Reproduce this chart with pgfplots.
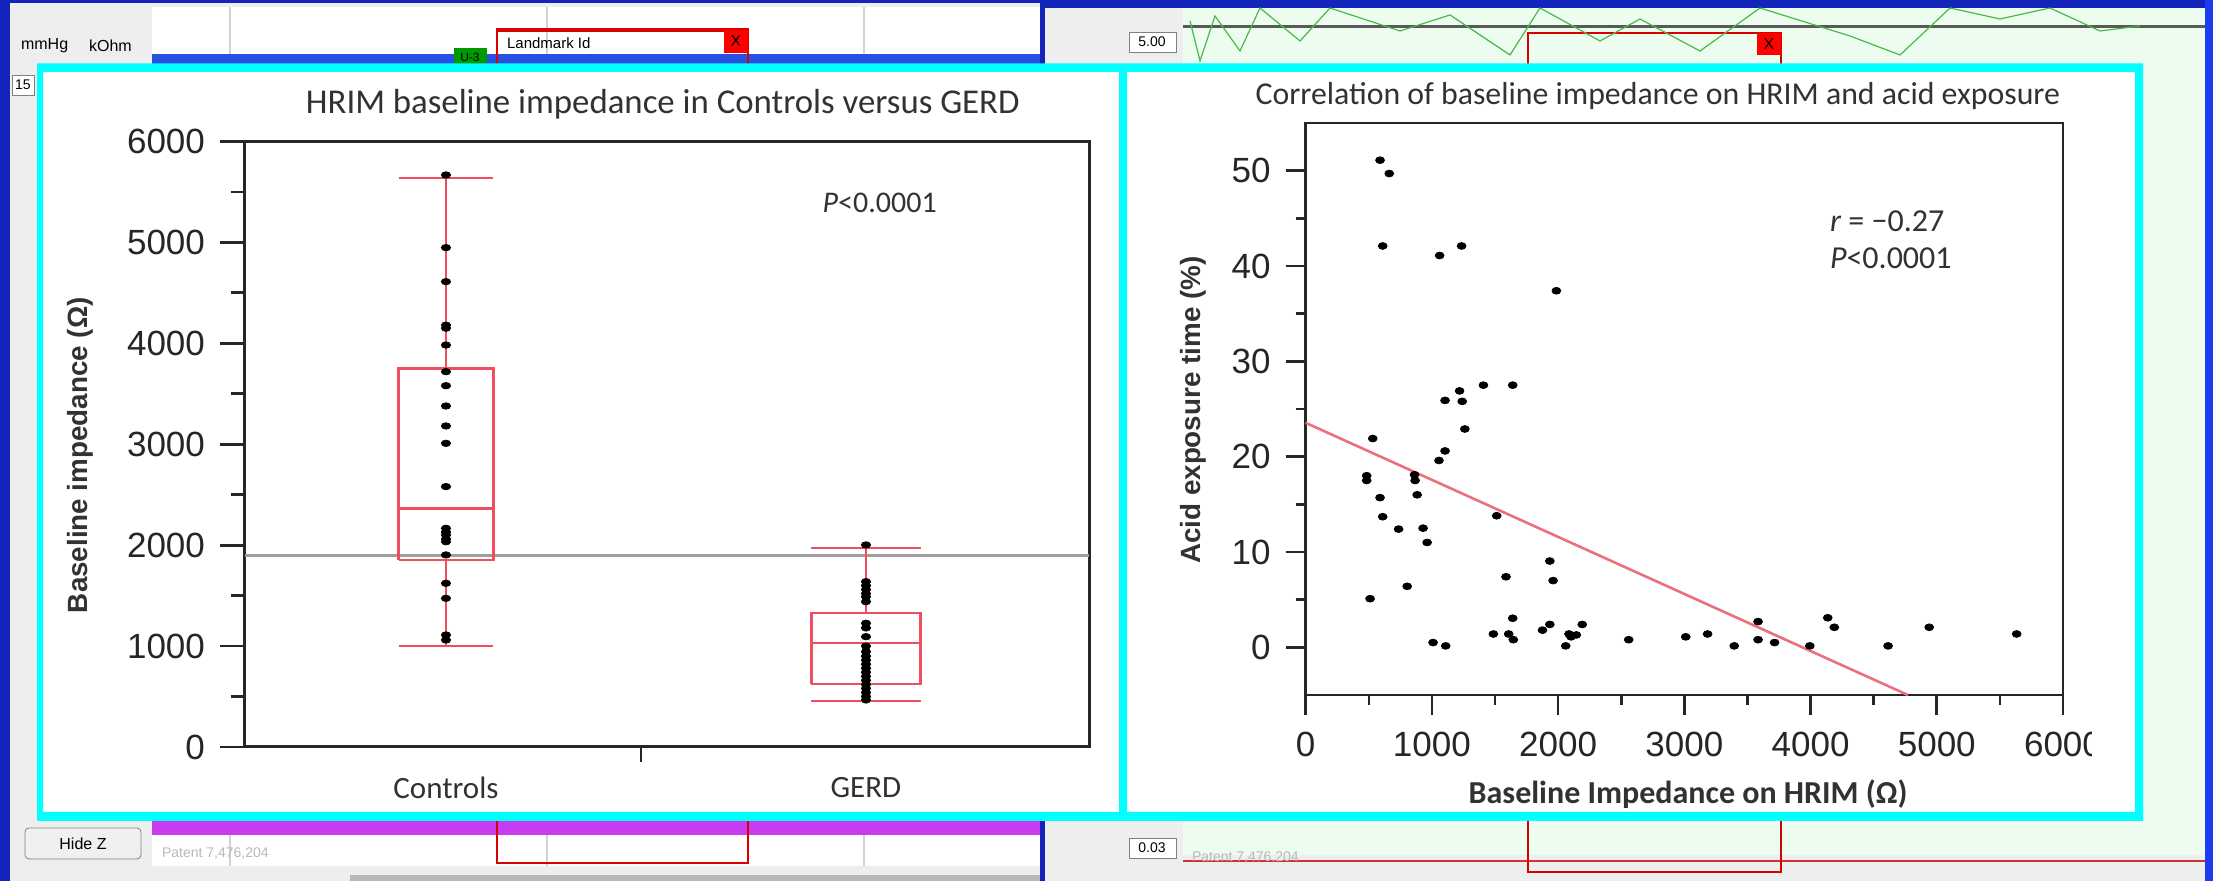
\documentclass[border=0pt]{standalone}
\usepackage{pgfplots}
\pgfplotsset{compat=1.18}
\usepackage{fontspec}
\setmainfont{Carlito}
\newfontfamily\arial{Liberation Sans}
\definecolor{bgblue}{RGB}{18,36,185}
\definecolor{bgblue2}{RGB}{30,60,240}
\definecolor{winGray}{RGB}{238,238,238}
\definecolor{mint}{RGB}{236,252,238}
\definecolor{boxred}{RGB}{240,78,94}
\definecolor{fitred}{RGB}{236,112,124}
\definecolor{purp}{RGB}{200,60,240}
\definecolor{heat}{RGB}{40,80,225}
\definecolor{cyanb}{RGB}{0,255,255}
\definecolor{txtgray}{RGB}{50,50,50}

\begin{document}
\begin{tikzpicture}
\begin{scope}[x=0.5pt,y=0.5pt]
\path[use as bounding box] (0,0) rectangle (2213,881);
% ---------- background screenshot decoration ----------
\fill[bgblue] (0,0) rectangle (2213,881);
\fill[bgblue2] (2205,0) rectangle (2213,881);
% left window
\fill[winGray] (10,0) rectangle (1040,878);
\fill[white] (152,15) rectangle (1040,874);
\foreach \gx in {230,547,864} \draw[gray!35, line width=0.8pt] (\gx,15) -- (\gx,874);
\fill[heat] (152,817) rectangle (1040,827);
\fill[purp] (152,46) rectangle (1040,60);
\draw[red!85!black, line width=1.2pt] (497,18) rectangle (748,852);
\fill[red!85!black] (497,849) rectangle (748,853);
\fill[red] (724,828) rectangle (748,851);
\node[font=\arial\fontsize{8}{8}\selectfont] at (736,840) {X};
\node[font=\arial\fontsize{7.5}{8}\selectfont, anchor=west] at (500,838) {Landmark Id};
\fill[green!60!black] (454,815) rectangle (487,833);
\node[font=\arial\fontsize{6}{6}\selectfont] at (470,824) {U-3};
\node[font=\arial\fontsize{8}{8}\selectfont, anchor=west] at (14,835) {mmHg};
\node[font=\arial\fontsize{8}{8}\selectfont, anchor=west] at (82,835) {kOhm};
\draw[gray, fill=white] (12,786) rectangle (34,806);
\node[font=\arial\fontsize{7}{7}\selectfont] at (23,796) {15};
\draw[gray, fill=gray!12, rounded corners=2pt] (25,22) rectangle (141,53);
\node[font=\arial\fontsize{8}{8}\selectfont] at (83,37) {Hide Z};
\node[font=\arial\fontsize{7}{7}\selectfont, text=gray!55, anchor=west] at (155,27) {Patent 7,476,204};
\fill[gray!55] (350,0) rectangle (1040,6);
% right window
\fill[winGray] (1045,0) rectangle (2205,873);
\fill[mint] (1183,26) rectangle (2205,873);
\draw[gray!70!black, line width=1.5pt] (1183,854) -- (2205,854);
\draw[red!60!gray, line width=1.2pt] (1183,20) -- (2205,20);
\draw[red!85!black, line width=1.2pt] (1528,9) rectangle (1781,848);
\fill[red] (1757,826) rectangle (1781,848);
\node[font=\arial\fontsize{8}{8}\selectfont] at (1769,837) {X};
\draw[gray, fill=white] (1129,829) rectangle (1176,849);
\node[font=\arial\fontsize{7}{7}\selectfont] at (1152,839) {5.00};
\draw[gray, fill=white] (1129,23) rectangle (1176,43);
\node[font=\arial\fontsize{7}{7}\selectfont] at (1152,33) {0.03};
\node[font=\arial\fontsize{7}{7}\selectfont, text=gray!55, anchor=west] at (1185,23) {Patent 7,476,204};
\draw[green!60!black!70, line width=0.6pt] (1190,860) -- (1200,820) -- (1215,865) -- (1240,830) -- (1260,873) -- (1300,840) -- (1330,873) -- (1400,850) -- (1450,866) -- (1510,826) -- (1540,873) -- (1600,840) -- (1640,862) -- (1700,830) -- (1760,873) -- (1850,845) -- (1900,826) -- (1950,873) -- (2000,862) -- (2050,873) -- (2100,850) -- (2140,855);
% ---------- white panels ----------
\fill[white] (43,69) rectangle (1119,809);
\fill[white] (1127,69) rectangle (2135,809);
\end{scope}

% ---------- LEFT: box plots ----------
\begin{axis}[
  at={(122.5pt,67pt)}, anchor=south west, scale only axis,
  width=422pt, height=302.75pt,
  clip=false,
  xmin=0.043, xmax=4.062, ymin=0, ymax=6000,
  axis line style={line width=1.5pt, black!85},
  ytick={0,1000,2000,3000,4000,5000,6000}, minor y tick num=1,
  ytick pos=left, xtick pos=bottom,
  tick align=outside,
  major tick length=12.5pt, minor tick length=7pt,
  tick style={black!85, line width=1.4pt},
  xtick={1,3}, xticklabels={Controls,GERD},
  major x tick style={draw=none},
  /pgf/number format/assume math mode=true,
  /pgf/number format/1000 sep={},
  yticklabel style={font=\arial\fontsize{17.5}{20}\selectfont, text=black!85, xshift=-4pt},
  xticklabel style={font=\fontsize{15.5}{18}\selectfont, text=txtgray, yshift=1pt},
  ylabel={Baseline impedance (Ω)},
  ylabel style={font=\arial\bfseries\fontsize{13.9}{16}\selectfont, text=txtgray, at={(axis description cs:-0.1947,0.482)}, anchor=center},
]
\addplot[gray!75, line width=1.4pt] coordinates {(0.043,1901) (4.062,1901)};
% Controls box
\addplot[boxred, line width=1.2pt] coordinates {(0.774,1853) (1.226,1853) (1.226,3752) (0.774,3752) (0.774,1853)};
\addplot[boxred, line width=1.2pt] coordinates {(0.774,2365) (1.226,2365)};
\addplot[boxred, line width=1.2pt] coordinates {(1,3752) (1,5640)};
\addplot[boxred, line width=1.2pt] coordinates {(1,1853) (1,998)};
\addplot[boxred, line width=1.2pt] coordinates {(0.774,5640) (1.226,5640)};
\addplot[boxred, line width=1.2pt] coordinates {(0.774,998) (1.226,998)};
% GERD box
\addplot[boxred, line width=1.2pt] coordinates {(2.74,627) (3.26,627) (3.26,1330) (2.74,1330) (2.74,627)};
\addplot[boxred, line width=1.2pt] coordinates {(2.74,1030) (3.26,1030)};
\addplot[boxred, line width=1.2pt] coordinates {(3,1330) (3,1970)};
\addplot[boxred, line width=1.2pt] coordinates {(3,627) (3,455)};
\addplot[boxred, line width=1.2pt] coordinates {(2.74,1970) (3.26,1970)};
\addplot[boxred, line width=1.2pt] coordinates {(2.74,455) (3.26,455)};
\addplot[only marks, mark=*, mark size=1.6pt, mark options={xscale=1.45, fill=black, draw=none}] coordinates {
(1,5668) (1,4948) (1,4611) (1,4180) (1,4150) (1,3983) (1,3719) (1,3580) (1,3379) (1,3181) (1,3009) (1,2580) (1,2167) (1,2130) (1,2101) (1,2060) (1,2034) (1,1903) (1,1622) (1,1473) (1,1110) (1,1060)
};
\addplot[only marks, mark=*, mark size=1.6pt, mark options={xscale=1.45, fill=black, draw=none}] coordinates {
(3,2002) (3,1638) (3,1600) (3,1560) (3,1520) (3,1489) (3,1440) (3,1226) (3,1180) (3,1093) (3,1000) (3,944) (3,900) (3,860) (3,820) (3,780) (3,740) (3,700) (3,660) (3,620) (3,580) (3,540) (3,500) (3,466)
};
\addplot[black!85, line width=1.4pt] coordinates {(1.929,0) (1.929,-149)};
\node[font=\fontsize{17.4}{20}\selectfont, text=txtgray] at (axis description cs:0.495,1.062) {HRIM baseline impedance in Controls versus GERD};
\node[font=\fontsize{15}{18}\selectfont, text=txtgray] at (axis description cs:0.752,0.898) {\textit{P}<0.0001};
\end{axis}

% ---------- RIGHT: scatter ----------
\begin{axis}[
  at={(652.85pt,93pt)}, anchor=south west, scale only axis,
  width=378.65pt, height=286pt,
  clip=false,
  xmin=0, xmax=6000, ymin=-5, ymax=55,
  axis line style={line width=1.4pt, black!85},
  xtick={0,1000,2000,3000,4000,5000,6000}, ytick={0,10,20,30,40,50},
  minor x tick num=1, minor y tick num=1,
  xtick pos=bottom, ytick pos=left,
  tick align=outside,
  major tick length=10pt, minor tick length=5pt,
  tick style={black!85, line width=1.3pt},
  /pgf/number format/assume math mode=true,
  /pgf/number format/1000 sep={},
  ticklabel style={font=\arial\fontsize{17.5}{20}\selectfont, text=black!85},
  xticklabel style={yshift=-5pt},
  yticklabel style={xshift=-4pt},
  xlabel={Baseline Impedance on HRIM (Ω)},
  xlabel style={font=\bfseries\fontsize{16}{18}\selectfont, text=txtgray, at={(axis description cs:0.505,-0.173)}, anchor=center},
  ylabel={Acid exposure time (\%)},
  ylabel style={font=\arial\bfseries\fontsize{13.9}{16}\selectfont, text=txtgray, at={(axis description cs:-0.1488,0.498)}, anchor=center},
]
\addplot[fitred, line width=1.3pt] coordinates {(0,23.55) (4771,-5)};
\addplot[only marks, mark=*, mark size=1.7pt, mark options={xscale=1.3, fill=black, draw=none}] coordinates {
(589,51.1) (662,49.7) (610,42.1) (1061,41.1) (1235,42.1) (1986,37.4)
(1408,27.5) (1640,27.5) (1219,26.9) (1104,25.9) (1240,25.8) (1261,22.9)
(531,21.9) (1104,20.6) (1056,19.6) (483,18.0) (483,17.5) (862,18.1) (867,17.5)
(883,16.0) (589,15.7) (610,13.7) (1513,13.8) (736,12.4) (930,12.5) (962,11.0)
(1934,9.05) (1960,7.0) (1587,7.4) (804,6.4) (510,5.1)
(1640,3.05) (4136,3.1) (3584,2.7) (4188,2.1) (4940,2.1) (1934,2.4) (2191,2.4)
(1876,1.8) (1487,1.4) (1608,1.4) (2086,1.4) (2144,1.3) (2102,1.1) (3184,1.4) (5633,1.4)
(1645,0.8) (2559,0.8) (3011,1.1) (3584,0.8) (3715,0.5) (1009,0.5)
(1109,0.15) (2060,0.15) (3395,0.15) (3994,0.15) (4614,0.15)
};
\node[font=\fontsize{15.9}{18}\selectfont, text=txtgray] at (axis description cs:0.465,1.047) {Correlation of baseline impedance on HRIM and acid exposure};
\node[font=\fontsize{16}{18}\selectfont, text=txtgray, anchor=west] at (axis description cs:0.683,0.829) {\textit{r} = −0.27};
\node[font=\fontsize{16}{18}\selectfont, text=txtgray, anchor=west] at (axis description cs:0.683,0.764) {\textit{P}<0.0001};
\end{axis}

% ---------- cyan frames on top ----------
\begin{scope}[x=0.5pt,y=0.5pt]
\fill[white] (2092,110) rectangle (2135,165);
\fill[cyanb, even odd rule] (37,60) rectangle (2143,817.5) (43,69) rectangle (1119,809) (1127,69) rectangle (2135,809);
\end{scope}
\end{tikzpicture}
\end{document}
